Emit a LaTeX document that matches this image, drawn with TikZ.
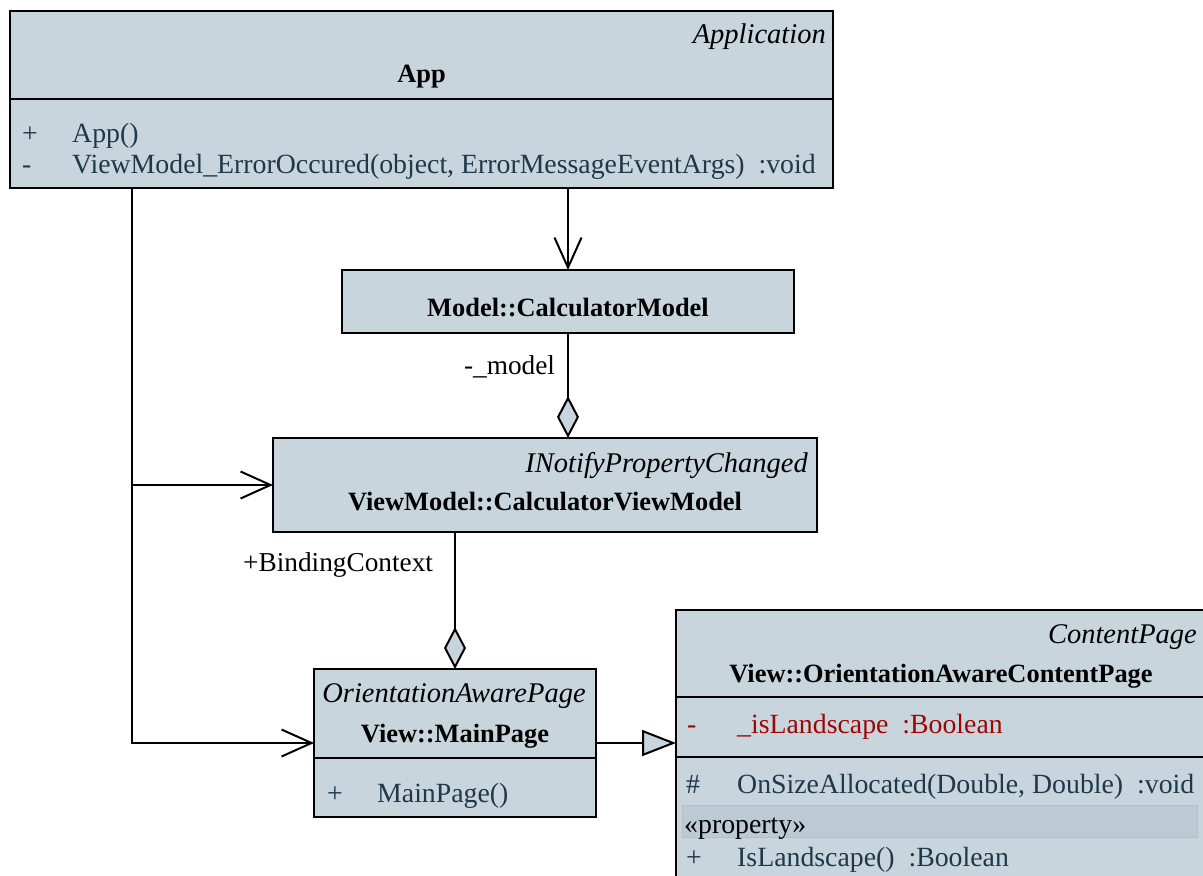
\documentclass[tikz,border=0pt]{standalone}
\usepackage{fontspec}
\setmainfont{Liberation Serif}
\usetikzlibrary{arrows.meta,positioning}

\definecolor{classfill}{RGB}{200,213,221}
\definecolor{propfill}{RGB}{188,202,211}
\definecolor{propline}{RGB}{176,191,201}
\definecolor{membertext}{RGB}{30,56,76}
\definecolor{attrtext}{RGB}{158,6,6}

\tikzset{
  classbox/.style={draw, fill=classfill, line width=2pt, anchor=north west,
    inner sep=0pt, outer sep=0pt},
  divider/.style={line width=2pt},
  title/.style={font=\fontsize{26.4}{30}\selectfont\bfseries, inner sep=0pt, anchor=base},
  stereo/.style={font=\fontsize{28.5}{32}\selectfont\itshape, inner sep=0pt, anchor=base east},
  member/.style={font=\fontsize{27.8}{32}\selectfont, text=membertext, inner sep=0pt, anchor=base west},
  rolelabel/.style={font=\fontsize{27.3}{32}\selectfont, inner sep=0pt},
  assoc/.style={line width=2pt, -{Straight Barb[length=30pt,width=27pt]}},
  aggr/.style={line width=2pt, -{Diamond[length=42pt,width=22pt,fill=classfill]}},
  gener/.style={line width=2pt, -{Triangle[length=34pt,width=26pt,fill=classfill]}}
}

\begin{document}
\begin{tikzpicture}[x=1pt,y=-1pt]
  \useasboundingbox (0,0) rectangle (1203,876);
  \clip (0,0) rectangle (1203,876);

  % App
  \node[classbox, minimum width=823pt, minimum height=177pt] (app) at (10,11) {};
  \draw[divider] (10,99) -- (833,99);
  \node[stereo] (app-stereo) at (826,43) {Application};
  \node[title] (app-title) at (421.5,82) {App};
  \foreach \row/\vis/\sig in {142/+/App(),
      173/-/{ViewModel\_ErrorOccured(object, ErrorMessageEventArgs)\ \ :void}} {
    \node[member] (app-vis-\row) at (22,\row) {\vis};
    \node[member] (app-op-\row) at (72,\row) {\sig};
  }

  % Model::CalculatorModel
  \node[classbox, minimum width=452pt, minimum height=63pt] (model) at (342,270) {};
  \node[title] (model-title) at (568,316) {Model::CalculatorModel};

  % ViewModel::CalculatorViewModel
  \node[classbox, minimum width=544pt, minimum height=94pt] (cvm) at (273,438) {};
  \node[stereo] (cvm-stereo) at (808,472) {INotifyPropertyChanged};
  \node[title] (cvm-title) at (545,510) {ViewModel::CalculatorViewModel};

  % View::MainPage
  \node[classbox, minimum width=282pt, minimum height=148pt] (mainpage) at (314,669) {};
  \draw[divider] (314,758) -- (596,758);
  \node[stereo, anchor=base] (mainpage-stereo) at (454,702) {OrientationAwarePage};
  \node[title] (mainpage-title) at (455,742) {View::MainPage};
  \node[member] (mainpage-vis) at (327,802) {+};
  \node[member] (mainpage-op) at (377,802) {MainPage()};

  % View::OrientationAwareContentPage
  \node[classbox, minimum width=530pt, minimum height=280pt] (oacp) at (676,610) {};
  \draw[divider] (676,697) -- (1206,697);
  \draw[divider] (676,757) -- (1206,757);
  \node[stereo] (oacp-stereo) at (1197,643) {ContentPage};
  \node[title] (oacp-title) at (941,682) {View::OrientationAwareContentPage};
  \node[member, text=attrtext] (oacp-attr-vis) at (687,733) {-};
  \node[member, text=attrtext] (oacp-attr) at (737,733) {\_isLandscape\ \ :Boolean};
  \node[member] (oacp-op-vis) at (686,793) {\#};
  \node[member] (oacp-op) at (737,793) {OnSizeAllocated(Double, Double)\ \ :void};
  \draw[fill=propfill, draw=propline, line width=0.8pt] (682,805) rectangle (1197,837);
  \node[member, text=black] (oacp-prop) at (684,833) {«property»};
  \node[member] (oacp-get-vis) at (686,866) {+};
  \node[member] (oacp-get) at (737,866) {IsLandscape()\ \ :Boolean};

  % connectors
  \coordinate (app-port) at (132,188);
  \draw[assoc] (app.south -| model.north) -- (model.north);
  \draw[aggr] (model.south) -- (model.south |- cvm.north)
    node[rolelabel, pos=0.32, left=12pt] (model-role) {-\_model};
  \draw[aggr] (cvm.south -| mainpage.north) -- (mainpage.north)
    node[rolelabel, pos=0.24, left=21pt] (cvm-role) {+BindingContext};
  \draw[assoc] (app-port) |- (cvm.west);
  \draw[assoc] (app-port) |- (mainpage.west);
  \draw[gener] (mainpage.east) -- (mainpage.east -| oacp.west);

\end{tikzpicture}
\end{document}
